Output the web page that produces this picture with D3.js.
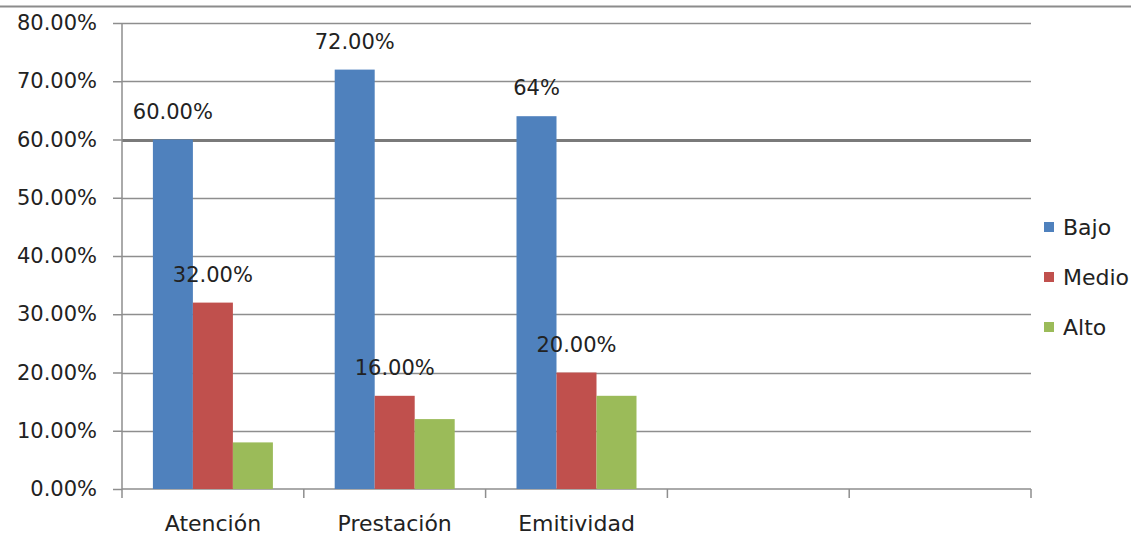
<!DOCTYPE html>
<html>
<head>
<meta charset="utf-8">
<script src="https://cdn.jsdelivr.net/npm/d3@7"></script>
<style>
  html, body { margin: 0; padding: 0; background: #fff; }
  svg { display: block; font-family: "DejaVu Sans", sans-serif; }
</style>
</head>
<body>
<svg id="chart" width="1131" height="535"></svg>
<script>
// bar chart: niveles por dimensión

var categories = ["Atención", "Prestación", "Emitividad", "", " "];
var series = ["Bajo", "Medio", "Alto"];
var bajo = [0.60, 0.72, 0.64];
var medio = [0.32, 0.16, 0.20];
var alto = [0.08, 0.12, 0.16];
// data labels as printed in the picture (only Bajo and Medio carry one)
var bajoLabels = ["60.00%", "72.00%", "64%"];
var medioLabels = ["32.00%", "16.00%", "20.00%"];
var yTicks = [0, 0.1, 0.2, 0.3, 0.4, 0.5, 0.6, 0.7, 0.8];
var colors = ["#4F81BD", "#C0504D", "#9BBB59"];

var svg = d3.select("#chart");
// plot area (note: "top" would clash with window.top)
var pLeft = 122, pRight = 1031, pTop = 23, pBottom = 489;
var numSize = "21px", textSize = "22px";

var x = d3.scaleBand().domain(categories).range([pLeft, pRight]);
var y = d3.scaleLinear().domain([0, 0.8]).range([pBottom, pTop]);
var barW = 40;
var inner = d3.scaleBand().domain(series).range([0, barW * 3]);

// line from the page above the chart (cut-off caption)
svg.append("line")
    .attr("x1", 0).attr("x2", 1131)
    .attr("y1", 6.5).attr("y2", 6.5)
    .attr("stroke", "#8c8c8c").attr("stroke-width", 2);

// gridlines
svg.append("g")
    .selectAll("line")
    .data(yTicks.filter(function(d) { return d > 0; }))
    .enter().append("line")
    .attr("x1", pLeft).attr("x2", pRight)
    .attr("y1", function(d) { return Math.round(y(d)) + 0.5; })
    .attr("y2", function(d) { return Math.round(y(d)) + 0.5; })
    .attr("stroke", function(d) { return Math.abs(d - 0.6) < 1e-9 ? "#7a7a7a" : "#8e8e8e"; })
    .attr("stroke-width", function(d) { return Math.abs(d - 0.6) < 1e-9 ? 3 : 1.5; });

// y axis
var yAxis = d3.axisLeft(y)
    .tickValues(yTicks)
    .tickFormat(function(d) { return (d * 100).toFixed(2) + "%"; })
    .tickSize(9)
    .tickPadding(16);
var gy = svg.append("g").attr("transform", "translate(" + pLeft + ",0)").call(yAxis);
gy.select(".domain").attr("stroke", "#8e8e8e").attr("stroke-width", 1.5)
    .attr("d", "M0," + pTop + "V" + pBottom);
gy.selectAll(".tick line").attr("stroke", "#8e8e8e").attr("stroke-width", 1.5);
gy.selectAll(".tick text").attr("fill", "#222").style("font-size", numSize)
    .style("font-family", "'DejaVu Sans', sans-serif");

// x axis
var xAxis = d3.axisBottom(x).tickSize(0).tickPadding(26);
var gx = svg.append("g").attr("transform", "translate(0," + pBottom + ")").call(xAxis);
gx.select(".domain").attr("stroke", "#8e8e8e").attr("stroke-width", 1.5)
    .attr("d", "M" + pLeft + ",0H" + pRight);
gx.selectAll(".tick text").attr("fill", "#222").style("font-size", textSize)
    .style("font-family", "'DejaVu Sans', sans-serif");
// category boundary ticks
var bounds = categories.map(function(c) { return x(c); }).concat([pRight]);
gx.selectAll(".bound").data(bounds).enter().append("line")
    .attr("class", "bound")
    .attr("x1", function(d) { return d; }).attr("x2", function(d) { return d; })
    .attr("y1", 0).attr("y2", 9)
    .attr("stroke", "#8e8e8e").attr("stroke-width", 1.5);

// bars
var values = [bajo, medio, alto];
var groups = svg.append("g");
values.forEach(function(vals, si) {
    groups.append("g").selectAll("rect")
        .data(vals)
        .enter().append("rect")
        .attr("x", function(d, i) {
            return x(categories[i]) + (x.bandwidth() - barW * 3) / 2 + inner(series[si]);
        })
        .attr("y", function(d) { return y(d); })
        .attr("width", inner.bandwidth())
        .attr("height", function(d) { return pBottom - y(d); })
        .attr("fill", colors[si]);
});

// data labels
function addLabels(vals, labels, si) {
    svg.append("g").selectAll("text")
        .data(vals)
        .enter().append("text")
        .attr("x", function(d, i) {
            return x(categories[i]) + (x.bandwidth() - barW * 3) / 2 + inner(series[si]) + inner.bandwidth() / 2;
        })
        .attr("y", function(d) { return y(d) - 21; })
        .attr("text-anchor", "middle")
        .attr("fill", "#222")
        .style("font-size", numSize)
        .text(function(d, i) { return labels[i]; });
}
addLabels(bajo, bajoLabels, 0);
addLabels(medio, medioLabels, 1);

// legend
var legend = svg.append("g").attr("transform", "translate(1044,222)");
series.forEach(function(s, i) {
    var row = legend.append("g").attr("transform", "translate(0," + (i * 50) + ")");
    row.append("rect").attr("width", 10).attr("height", 10).attr("fill", colors[i]);
    row.append("text").attr("x", 19).attr("y", 13)
        .attr("fill", "#222").style("font-size", textSize).text(s);
});
</script>
</body>
</html>
